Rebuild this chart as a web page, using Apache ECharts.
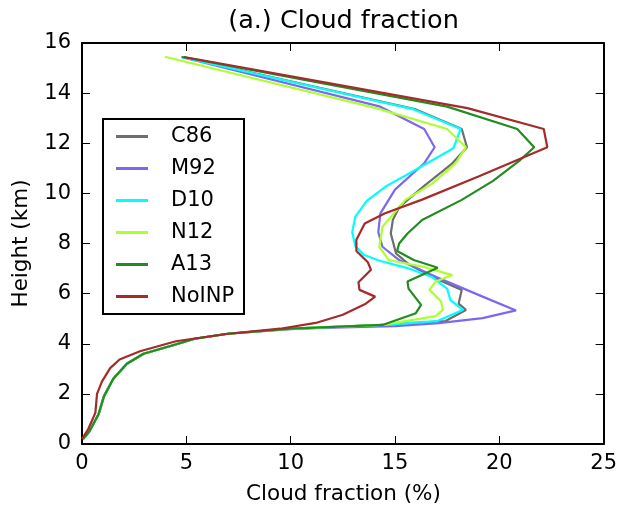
<!DOCTYPE html>
<html>
<head>
<meta charset="utf-8">
<script src="https://cdn.jsdelivr.net/npm/echarts@6/dist/echarts.min.js"></script>
<style>html,body{margin:0;padding:0;background:#fff;}#c{width:620px;height:509px;}</style>
</head>
<body>
<div id="c"></div>
<script>
// Series names
const seriesNames = ['C86', 'M92', 'D10', 'N12', 'A13', 'NoINP'];
// Axis ticks
const xTicks = [0, 5, 10, 15, 20, 25];
const yTicks = [0, 2, 4, 6, 8, 10, 12, 14, 16];

// Cloud fraction (%) and height (km) for each profile
const c86_cf = [0.05,0.35,0.8,1.05,1.5,2.15,2.95,4.2,5.4,7.0,10.0,14.3,17.4,18.4,18.05,18.2,16.95,15.7,15.05,14.8,14.9,15.2,16.4,17.75,18.45,18.2,16.0,4.8];
const c86_h  = [0.2,0.5,1.2,1.9,2.6,3.2,3.6,3.9,4.2,4.4,4.58,4.75,4.9,5.35,5.6,6.15,6.6,7.15,7.6,8.4,8.95,9.45,10.3,11.2,11.84,12.57,13.35,15.44];

const m92_cf = [0.05,0.35,0.8,1.05,1.5,2.15,2.95,4.2,5.4,7.0,10.0,15.0,17.1,19.2,20.8,19.2,16.95,15.2,14.4,14.2,14.3,15.0,16.4,16.9,16.4,14.3,4.75];
const m92_h  = [0.2,0.5,1.2,1.9,2.6,3.2,3.6,3.9,4.2,4.4,4.6,4.7,4.82,5.02,5.33,5.88,6.67,7.34,7.87,8.45,9.2,10.15,11.2,11.84,12.57,13.46,15.44];

const d10_cf = [0.05,0.35,0.8,1.05,1.5,2.15,2.95,4.2,5.4,7.0,10.0,14.5,17.0,18.25,17.65,17.5,16.8,15.6,14.3,13.5,13.1,12.95,13.1,13.65,14.6,15.7,17.8,18.15,15.9,4.75];
const d10_h  = [0.2,0.5,1.2,1.9,2.6,3.2,3.6,3.9,4.2,4.4,4.6,4.75,4.9,5.35,5.75,6.2,6.65,7.02,7.3,7.55,7.9,8.45,9.07,9.7,10.3,10.8,11.8,12.57,13.35,15.44];

const n12_cf = [0.05,0.35,0.8,1.05,1.5,2.15,2.95,4.2,5.4,7.0,10.0,14.4,16.95,17.3,17.2,16.65,16.95,17.75,16.3,14.7,14.25,14.4,15.5,16.8,17.9,18.4,17.5,14.1,3.97];
const n12_h  = [0.2,0.5,1.2,1.9,2.6,3.2,3.6,3.9,4.2,4.4,4.6,4.75,5.1,5.35,5.7,6.15,6.48,6.74,7.08,7.34,7.87,8.67,9.74,10.4,11.2,11.84,12.57,13.4,15.45];

const a13_cf = [0.05,0.35,0.8,1.05,1.5,2.15,2.95,4.2,5.4,7.0,10.0,14.4,16.0,16.25,15.65,15.6,17.05,15.9,15.1,15.2,15.6,16.3,18.2,19.7,21.0,21.67,20.86,17.5,4.8];
const a13_h  = [0.2,0.5,1.2,1.9,2.6,3.2,3.6,3.9,4.2,4.4,4.6,4.75,5.22,5.55,6.2,6.48,7.03,7.34,7.7,8.0,8.4,8.94,9.74,10.5,11.33,11.84,12.57,13.46,15.44];

const noinp_cf = [0.0,0.3,0.64,0.72,0.96,1.35,1.8,2.78,4.5,6.9,9.5,11.2,12.5,13.6,14.05,13.3,13.25,13.85,13.7,13.15,13.15,13.55,14.5,16.3,19.0,22.3,22.13,18.47,4.9];
const noinp_h  = [0.2,0.6,1.24,2.0,2.5,3.03,3.37,3.7,4.1,4.39,4.6,4.83,5.16,5.6,5.88,6.15,6.45,6.95,7.25,7.7,8.15,8.8,9.2,9.75,10.67,11.84,12.57,13.4,15.44];

const colors = ['#6e6e6e', '#7b68ee', '#00ffff', '#adff2f', '#228b22', '#a52a2a'];

const profiles = [[c86_cf,c86_h],[m92_cf,m92_h],[d10_cf,d10_h],[n12_cf,n12_h],[a13_cf,a13_h],[noinp_cf,noinp_h]];

const FONT = 'DejaVu Sans';
const chart = echarts.init(document.getElementById('c'), null, {renderer: 'canvas'});

const gridL = 82, gridT = 43, gridR = 15, gridB = 65;

function axisCommon(ticks) {
  return {
    type: 'value',
    min: ticks[0],
    max: ticks[ticks.length - 1],
    interval: ticks[1] - ticks[0],
    splitLine: {show: false},
    axisLine: {show: true, onZero: false, lineStyle: {color: '#000', width: 2}},
    axisTick: {show: true, inside: true, length: 8, lineStyle: {color: '#000', width: 1}},
  };
}

const option = {
  backgroundColor: '#fff',
  animation: false,
  grid: {left: gridL, top: gridT, right: gridR, bottom: gridB, containLabel: false},
  xAxis: [
    Object.assign(axisCommon(xTicks), {
      position: 'bottom',
      axisLabel: {fontFamily: FONT, fontSize: 21, color: '#000', margin: 9,
        formatter: v => xTicks.includes(v) ? String(v) : ''}
    }),
    Object.assign(axisCommon(xTicks), {
      position: 'top',
      axisLabel: {show: false}
    })
  ],
  yAxis: [
    Object.assign(axisCommon(yTicks), {
      position: 'left',
      axisLabel: {fontFamily: FONT, fontSize: 21, color: '#000', margin: 11,
        formatter: v => yTicks.includes(v) ? String(v) : ''}
    }),
    Object.assign(axisCommon(yTicks), {
      position: 'right',
      axisLabel: {show: false}
    })
  ],
  legend: {
    orient: 'vertical',
    left: 116,
    top: 126,
    padding: 0,
    itemWidth: 32,
    itemHeight: 3,
    itemGap: 11,
    icon: 'rect',
    data: seriesNames,
    z: 10,
    textStyle: {fontFamily: FONT, fontSize: 21, color: '#000', lineHeight: 20, padding: [0, 0, 0, 18]}
  },
  graphic: [
    {
      type: 'text',
      x: 343.5, y: 21,
      style: {text: '(a.) Cloud fraction', font: '25.5px "DejaVu Sans"', fill: '#000', align: 'center', verticalAlign: 'middle'},
      z: 5
    },
    {
      type: 'rect',
      shape: {x: 103, y: 119, width: 141, height: 195},
      style: {fill: '#fff', stroke: '#000', lineWidth: 2},
      z: 5
    },
    {
      type: 'text',
      x: 343.5, y: 494,
      style: {text: 'Cloud fraction (%)', font: '21.5px "DejaVu Sans"', fill: '#000', align: 'center', verticalAlign: 'middle'},
      z: 5
    },
    {
      type: 'text',
      x: 21, y: 243.5,
      rotation: Math.PI / 2,
      style: {text: 'Height (km)', font: '21.5px "DejaVu Sans"', fill: '#000', align: 'center', verticalAlign: 'middle'},
      z: 5
    }
  ],
  series: profiles.map((p, i) => ({
    name: seriesNames[i],
    type: 'line',
    xAxisIndex: 0,
    yAxisIndex: 0,
    data: p[0].map((x, k) => [x, p[1][k]]),
    showSymbol: false,
    symbol: 'none',
    smooth: false,
    color: colors[i],
    lineStyle: {width: 2.2, color: colors[i]},
    z: 2
  }))
};
chart.setOption(option);
</script>
</body>
</html>
